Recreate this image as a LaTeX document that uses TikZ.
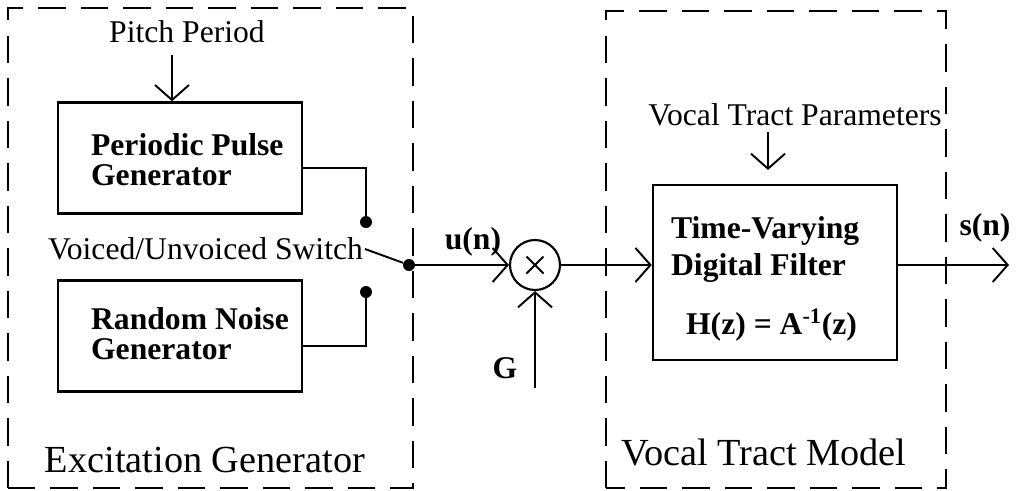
\documentclass[tikz,border=0pt]{standalone}
\usepackage{fontspec}
\setmainfont{Liberation Serif}
\usetikzlibrary{arrows.meta, positioning, calc}

\tikzset{
  wire/.style={line width=1.1pt},
  sig/.style={line width=1.1pt, -{Straight Barb[length=0.3cm, width=0.68cm]}},
  genbox/.style={draw, line width=1.4pt, minimum width=4.88cm, minimum height=2.22cm},
  boxtext/.style={font=\fontsize{18}{17}\selectfont\bfseries, align=left, inner sep=0pt, anchor=west},
  plain/.style={font=\fontsize{18}{20}\selectfont},
  grouplabel/.style={font=\fontsize{21.8}{24}\selectfont},
  groupframe/.style={line width=0.7pt, dash pattern=on 0.55cm off 0.3cm},
  contact/.style={circle, fill, inner sep=0pt, minimum size=0.24cm}
}

\begin{document}
\begin{tikzpicture}

\useasboundingbox (0,0) rectangle (20.34,9.8);

% group frames
\draw[groupframe] (0.16,0.04) rectangle (8.26,9.64);
\draw[groupframe] (12.12,0.04) rectangle (18.92,9.58);

\node[grouplabel] (exclabel) at (4.1,0.6) {Excitation Generator};
\node[grouplabel] (vtmlabel) at (15.28,0.76) {Vocal Tract Model};

% =========== excitation ===========
\node[genbox] (pulse) at (3.6,6.64) {};
\node[boxtext] (pulsetxt) at ($(pulse.west)+(0.68,-0.04)$) {Periodic Pulse\\Generator};

\node[genbox] (noise) at (3.6,3.08) {};
\node[boxtext] (noisetxt) at ($(noise.west)+(0.68,0.04)$) {Random Noise\\Generator};

\node[plain] (pitch) at (3.74,9.16) {Pitch Period};
\coordinate (pitchin) at (3.44,8.7);
\draw[sig] (pitchin) -- (pitchin |- pulse.north);

% switch
\node[contact] (upper) at (7.32,5.36) {};
\node[contact] (lower) at (7.32,3.96) {};
\node[contact] (pivot) at (8.18,4.5) {};
\coordinate (lever) at (7.3,4.82);

\draw[wire] ([yshift=-0.2cm]pulse.east) -| (upper);
\draw[wire] ([yshift=-0.2cm]noise.east) -| (lower);
\draw[wire] (pivot) -- (lever);
\node[plain, left, inner sep=1pt] (swlabel) at (lever) {Voiced/Unvoiced Switch};

% =========== gain ===========
\node[draw, circle, line width=1.2pt, minimum size=1cm, inner sep=0pt] (mult) at (10.7,4.5) {};
\draw[wire] ($(mult.center)+(-0.17,-0.17)$) -- ($(mult.center)+(0.17,0.17)$);
\draw[wire] ($(mult.center)+(-0.17,0.17)$) -- ($(mult.center)+(0.17,-0.17)$);
\draw[sig] (pivot) -- (mult);
\node[plain, font=\fontsize{18}{20}\selectfont\bfseries] (un) at (9.46,4.96) {u(n)};

\coordinate (gin) at (10.7,2.04);
\draw[sig] (gin) -- (mult);
\node[plain, font=\fontsize{18}{20}\selectfont\bfseries] (gain) at (10.1,2.44) {G};

% =========== vocal tract ===========
\node[draw, line width=1.4pt, minimum width=4.88cm, minimum height=3.5cm] (filt) at (15.5,4.35) {};
\node[boxtext, font=\fontsize{18}{17}\selectfont\bfseries] (filttxt) at ($(filt.west)+(0.38,-0.12)$)
  {Time-Varying\\[4pt]Digital Filter\\[14pt]\hspace*{0.3cm}H(z) = A\textsuperscript{-1}(z)};

\draw[sig] (mult) -- (mult -| filt.west);

\node[plain] (vtp) at (15.9,7.5) {Vocal Tract Parameters};
\coordinate (vtpin) at (15.36,7.16);
\draw[sig] (vtpin) -- (15.36,6.4);

\coordinate (out) at (20.18,4.5);
\draw[sig] (filt.east |- out) -- (out);
\node[plain, font=\fontsize{18}{20}\selectfont\bfseries] (sn) at (19.7,5.24) {s(n)};

\end{tikzpicture}
\end{document}
